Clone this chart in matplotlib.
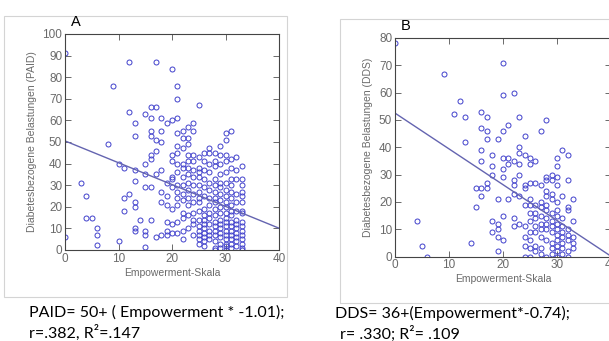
import numpy as np
import matplotlib
matplotlib.use("Agg")
import matplotlib.pyplot as plt
from matplotlib.patches import Rectangle

# Panel A: PAID vs Empowerment-Skala (y values grouped by integer x)
paid_cols = {
    0: [91, 6], 3: [31], 4: [25, 15], 5: [15], 6: [10, 7, 2.5], 8: [49], 9: [76],
    10: [40, 4], 11: [38, 24, 18], 12: [87, 64, 26],
    13: [59, 53, 37, 32, 22, 20, 10, 9], 14: [14],
    15: [63, 40, 35, 29, 9, 7, 1.5], 16: [66, 61, 55, 53, 44, 42, 29, 14],
    17: [87, 66, 51, 46, 35, 6], 18: [61, 55, 50, 37, 27, 22, 7],
    19: [59, 31, 25, 21, 13, 9, 7], 20: [84, 60, 44, 41, 34, 33, 29, 19, 12, 8],
    21: [76, 70, 61, 54, 48, 45, 40, 36, 30, 27, 24, 21, 13, 8],
    22: [55, 52, 47, 40, 38, 34, 30, 26, 23, 17, 15, 9, 5],
    23: [57, 52, 49, 44, 41, 38, 35, 31, 28, 24, 21, 16, 10],
    24: [59, 55, 44, 41, 37, 34, 30, 26, 22, 17, 14, 12, 7],
    25: [67, 43, 38, 36, 34, 30, 27, 24, 22, 18, 14, 11, 9, 7, 5, 3],
    26: [45, 41, 37, 33, 29, 25, 19, 16, 14, 12, 10, 8, 6, 4, 2],
    27: [47, 45, 40, 36, 31, 28, 24, 21, 17, 15, 12, 9, 7, 5],
    28: [45, 41, 39, 33, 30, 27, 24, 22, 19, 16, 13, 11, 9, 7, 4, 1, 0],
    29: [48, 44, 40, 35, 31, 29, 26, 23, 20, 17, 14, 12, 10, 8, 6, 3, 1],
    30: [54, 51, 44, 41, 36, 31, 28, 25, 22, 20, 17, 15, 13, 11, 9, 7, 5, 3, 2, 0],
    31: [55, 42, 38, 33, 30, 27, 24, 21, 18, 16, 13, 11, 9, 7, 5, 3, 1],
    32: [43, 37, 33, 26, 22, 18, 14, 12, 10, 8, 6, 4, 2],
    33: [39, 33, 30, 27, 25, 22, 18, 17, 13, 11, 9, 7, 5, 3, 1, 0],
}
paid_fit = [50.5, -1.01]

# Panel B: DDS vs Empowerment-Skala
dds_cols = {
    0: [78], 4: [13], 5: [4], 6: [0], 9: [67], 11: [52], 12: [57], 13: [51, 42],
    14: [5], 15: [25, 18], 16: [53, 47, 39, 35, 25, 22], 17: [51, 46, 43, 27, 25],
    18: [37, 33, 30, 13, 9], 19: [43, 21, 12, 10, 7, 2],
    20: [71, 59, 46, 36, 32, 29, 15, 6], 21: [48, 36, 34, 21],
    22: [60, 35, 28, 26, 23, 14, 11], 23: [51, 40, 38, 34, 30, 22, 12],
    24: [44, 37, 26, 25, 19, 11, 7, 4, 0],
    25: [36, 34, 27, 21, 19, 16, 13, 9, 6, 3, 0],
    26: [35, 27, 19, 16, 14, 11, 9, 4, 2],
    27: [46, 26, 20, 18, 15, 12, 10, 7, 3, 1],
    28: [50, 29, 28, 24, 22, 19, 17, 14, 12, 10, 6, 0],
    29: [30, 28, 23, 21, 16, 13, 11, 9, 5, 3, 1],
    30: [36, 33, 29, 26, 20, 17, 15, 12, 10, 8, 6, 4, 2, 0],
    31: [39, 22, 14, 11, 9, 7, 5, 3, 1],
    32: [37, 28, 18, 17, 10, 8, 6, 2, 0],
    33: [21, 13, 7, 5, 3],
}
dds_fit = [52.5, -1.31]

caption_a = ["PAID= 50+ ( Empowerment * -1.01);", "r=.382, R\u00b2=.147"]
caption_b = ["DDS= 36+(Empowerment*-0.74);", "r= .330; R\u00b2= .109"]


def flatten(cols):
    xs, ys = [], []
    for k, v in cols.items():
        xs += [k] * len(v)
        ys += v
    return np.array(xs, float), np.array(ys, float)


W, H = 609, 341
fig = plt.figure(figsize=(W / 100, H / 100), dpi=100)
fig.patch.set_facecolor("white")


def box(x0, y0, x1, y1):
    return [x0 / W, 1 - y1 / H, (x1 - x0) / W, (y1 - y0) / H]


# light gray frames round each panel
for r in [(4, 16, 287, 297), (340, 19, 612, 303)]:
    fig.patches.append(Rectangle((r[0] / W, 1 - r[3] / H), (r[2] - r[0]) / W,
                                 (r[3] - r[1]) / H, transform=fig.transFigure,
                                 fill=False, ec="#d4d4d4", lw=0.8))


def panel(rect, cols, fit, ymax, ylabel):
    ax = fig.add_axes(rect)
    x, y = flatten(cols)
    ax.plot(x, y, "o", mfc="none", mec="#4040cc", ms=3.6, mew=0.7)
    xx = np.array([0, 40])
    ax.plot(xx, fit[0] + fit[1] * xx, color="#6464b0", lw=1)
    ax.set_xlim(0, 40)
    ax.set_ylim(0, ymax)
    ax.set_xticks(range(0, 41, 10))
    ax.set_yticks(range(0, ymax + 1, 10))
    ax.tick_params(direction="in", top=True, right=True, length=4, width=0.7,
                   colors="#6a6a6a", labelsize=8.5, pad=2)
    for lab in ax.get_xticklabels() + ax.get_yticklabels():
        lab.set_family("Liberation Sans")
    for s in ax.spines.values():
        s.set_color("#444444")
        s.set_linewidth(0.8)
    ax.set_xlabel("Empowerment-Skala", fontsize=7.5, color="#6a6a6a",
                  family="Liberation Sans", labelpad=2)
    ax.set_ylabel(ylabel, fontsize=7.5, color="#6a6a6a",
                  family="Liberation Sans", labelpad=4)
    return ax


panel(box(65, 34, 279, 250), paid_cols, paid_fit, 100,
      "Diabetesbezogene Belastungen (PAID)")
panel(box(395, 38, 611, 256.5), dds_cols, dds_fit, 80,
      "Diabetesbezogene Belastungen (DDS)")

fig.text(76 / W, 1 - 22 / H, "A", fontsize=10.5, va="center", ha="center",
         family="Liberation Sans")
fig.text(406 / W, 1 - 26 / H, "B", fontsize=10.5, va="center", ha="center",
         family="Liberation Sans")

fig.text(29 / W, 1 - 312 / H, caption_a[0], fontsize=11.5, va="center", family="Lato")
fig.text(29 / W, 1 - 333 / H, caption_a[1], fontsize=11.5, va="center", family="Lato")
fig.text(335 / W, 1 - 313 / H, caption_b[0], fontsize=11.5, va="center", family="Lato")
fig.text(340 / W, 1 - 334 / H, caption_b[1], fontsize=11.5, va="center", family="Lato")

fig.savefig("out.png", dpi=100)
